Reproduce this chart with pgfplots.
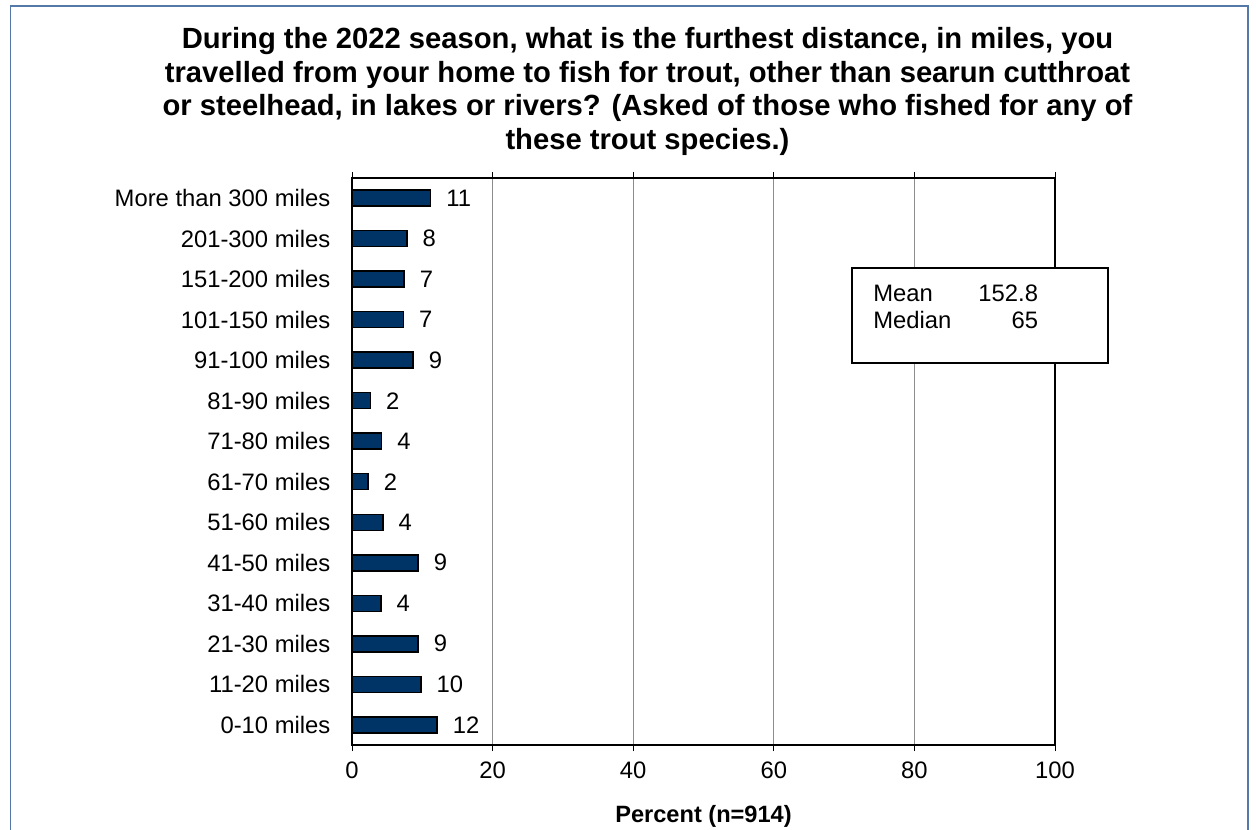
\documentclass[border=0pt]{standalone}
\usepackage{pgfplots}
\pgfplotsset{compat=1.18}
\usepackage{pgfplotstable}
\usepackage{fontspec}
\setmainfont{Liberation Sans}
\definecolor{barblue}{RGB}{0,51,102}
\definecolor{framecol}{RGB}{84,120,168}
\newcommand{\lblfont}{\fontsize{11.9}{14}\selectfont}
\pgfplotstableread{
y x lab
0 12.1 12
1 9.8 10
2 9.4 9
3 4.1 4
4 9.4 9
5 4.4 4
6 2.3 2
7 4.2 4
8 2.6 2
9 8.7 9
10 7.3 7
11 7.4 7
12 7.8 8
13 11.2 11
}\datatable
\begin{document}
\begin{tikzpicture}
\useasboundingbox (0pt,0pt) rectangle (628pt,414.5pt);
\draw[framecol, line width=0.6pt] (5.3pt,-20pt) -- (5.3pt,411.5pt) -- (624pt,411.5pt) -- (624pt,-20pt);
\node[anchor=north, align=center, inner sep=0pt, font=\fontsize{14.6}{16.75}\selectfont\bfseries] at (323.75pt,400.8pt)
{During the 2022 season, what is the furthest distance, in miles, you\\
travelled from your home to fish for trout, other than searun cutthroat\\
or steelhead, in lakes or rivers? (Asked of those who fished for any of\\
these trout species.)};
\begin{axis}[
  at={(176pt,42pt)}, anchor=south west,
  scale only axis, width=351.5pt, height=283.5pt,
  xmin=0, xmax=100, ymin=-0.5, ymax=13.5,
  xbar, bar width=8pt,
  axis line style={black, line width=1pt},
  xtick={0,20,40,60,80,100},
  xticklabels={0,20,40,60,80,100},
  tick align=outside,
  major tick length=3pt,
  xtick style={black, line width=0.4pt},
  xticklabel style={font=\lblfont, yshift=-2pt},
  xmajorgrids, grid style={gray!90, line width=0.5pt},
  ytick={0,...,13},
  yticklabels={0-10 miles,11-20 miles,21-30 miles,31-40 miles,41-50 miles,51-60 miles,61-70 miles,71-80 miles,81-90 miles,91-100 miles,101-150 miles,151-200 miles,201-300 miles,More than 300 miles},
  ytick style={draw=none},
  yticklabel style={font=\lblfont, xshift=-4.3pt},
  minor ytick={-0.5,0.5,...,13.5},
  minor tick length=3.5pt,
  minor y tick style={black, line width=0.5pt},
  clip=false,
  point meta=explicit symbolic,
  nodes near coords={\pgfplotspointmeta},
  nodes near coords style={anchor=west, inner sep=0pt, xshift=7.5pt, font=\lblfont, black},
]
\addplot[fill=barblue, draw=black, line width=0.75pt] table[x=x, y=y, meta=lab]{\datatable};
\end{axis}
\draw[black, line width=0.6pt, fill=white] (426pt,233pt) rectangle (554pt,280.5pt);
\node[anchor=base west, inner sep=0pt, font=\lblfont] at (436.5pt,263.6pt) {Mean};
\node[anchor=base east, inner sep=0pt, font=\lblfont] at (519.2pt,263.6pt) {152.8};
\node[anchor=base west, inner sep=0pt, font=\lblfont] at (436.5pt,250pt) {Median};
\node[anchor=base east, inner sep=0pt, font=\lblfont] at (519.2pt,250pt) {65};
\node[font=\fontsize{11.8}{14}\selectfont\bfseries] at (351.75pt,6.5pt) {Percent (n=914)};
\end{tikzpicture}
\end{document}
